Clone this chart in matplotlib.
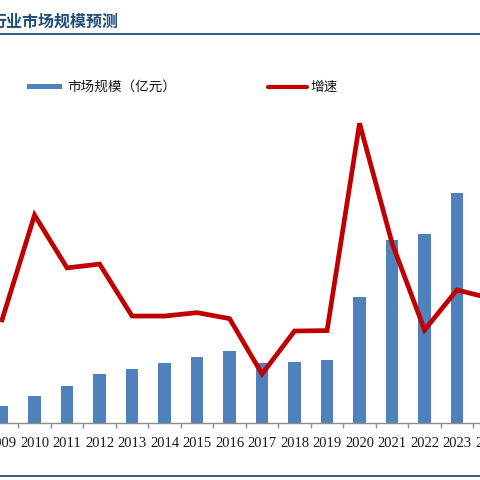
import matplotlib
matplotlib.use("Agg")
import matplotlib.pyplot as plt
from matplotlib.lines import Line2D
from matplotlib.patches import Rectangle
import numpy as np

plt.rcParams['font.family'] = ['Noto Sans CJK SC', 'DejaVu Sans']

years = ['2009', '2010', '2011', '2012', '2013', '2014', '2015', '2016',
         '2017', '2018', '2019', '2020', '2021', '2022', '2023', '2024']
market_size = [170, 270, 370, 490, 540, 600, 660, 720,
               600, 610, 630, 1260, 1830, 1890, 2300, 2710]
growth = [7.7, 56.7, 32.0, 33.8, 9.5, 9.5, 11.1, 8.3,
          -17.6, 2.5, 2.7, 99.6, 43.6, 3.0, 21.7, 17.9]

title = '行业市场规模预测'
bar_label = '市场规模（亿元）'
line_label = '增速'

W, H = 480, 480
fig = plt.figure(figsize=(4.8, 4.8), dpi=100)

def fx(px):
    return px / W

def fy(py):
    return 1 - py / H

PX_PER_CAT = 32.5
AX_RIGHT_PX = 520
XLIM = (-0.063, -0.063 + AX_RIGHT_PX / PX_PER_CAT)

# axes: bottom at baseline y=423 px, top at y=100 px, extends past right edge
ax = fig.add_axes([0, fy(423), fx(AX_RIGHT_PX), fy(100) - fy(423)])
x = np.arange(len(years))
blue = '#4F81BD'
red = '#C00000'
ax.bar(x, market_size, width=0.39, color=blue, zorder=2)
ax.set_ylim(0, 3230)

ax2 = ax.twinx()
ax2.plot(x, growth, color=red, lw=3.4, solid_joinstyle='miter', zorder=3)
ax2.set_ylim(-40.5, 110.5)

for a in (ax, ax2):
    for s in ('top', 'left', 'right'):
        a.spines[s].set_visible(False)
    a.set_yticks([])
ax2.spines['bottom'].set_visible(False)
ax.spines['bottom'].set_color('#8C8C8C')
ax.spines['bottom'].set_linewidth(1.0)

ax.set_xticks(x)
ax.set_xticklabels(years, family=['Liberation Serif', 'DejaVu Serif'],
                   fontsize=10.5, color='#1A1A1A')
ax.tick_params(axis='x', which='major', length=0, pad=10)
ax.set_xticks(x[:-1] + 0.5, minor=True)
ax.tick_params(axis='x', which='minor', length=3.5, width=1.0, color='#8C8C8C')
ax.set_xlim(*XLIM)
ax2.set_xlim(*XLIM)
ax.patch.set_alpha(0)
ax2.patch.set_alpha(0)

# title
fig.text(fx(-9), fy(21.5), title, fontsize=11.5, fontweight='bold',
         color='#1F4E79', ha='left', va='center')
fig.add_artist(Line2D([0, 1], [fy(34.3), fy(34.3)], color='#1F4E79', lw=1.3))
fig.add_artist(Line2D([0, 1], [fy(475.5), fy(475.5)], color='#1F4E79', lw=1.3))

# legend
fig.add_artist(Rectangle((fx(27), fy(89)), fx(62) - fx(27), fy(84) - fy(89),
                         facecolor=blue, edgecolor='none'))
fig.text(fx(67), fy(86.5), bar_label, fontsize=9.8, color='#1A1A1A',
         ha='left', va='center')
fig.add_artist(Line2D([fx(268), fx(307)], [fy(86.7), fy(86.7)], color=red,
                      lw=3.0, solid_capstyle='round'))
fig.text(fx(310), fy(86.5), line_label, fontsize=9.8, color='#1A1A1A',
         ha='left', va='center')

fig.savefig('out.png', dpi=100)
